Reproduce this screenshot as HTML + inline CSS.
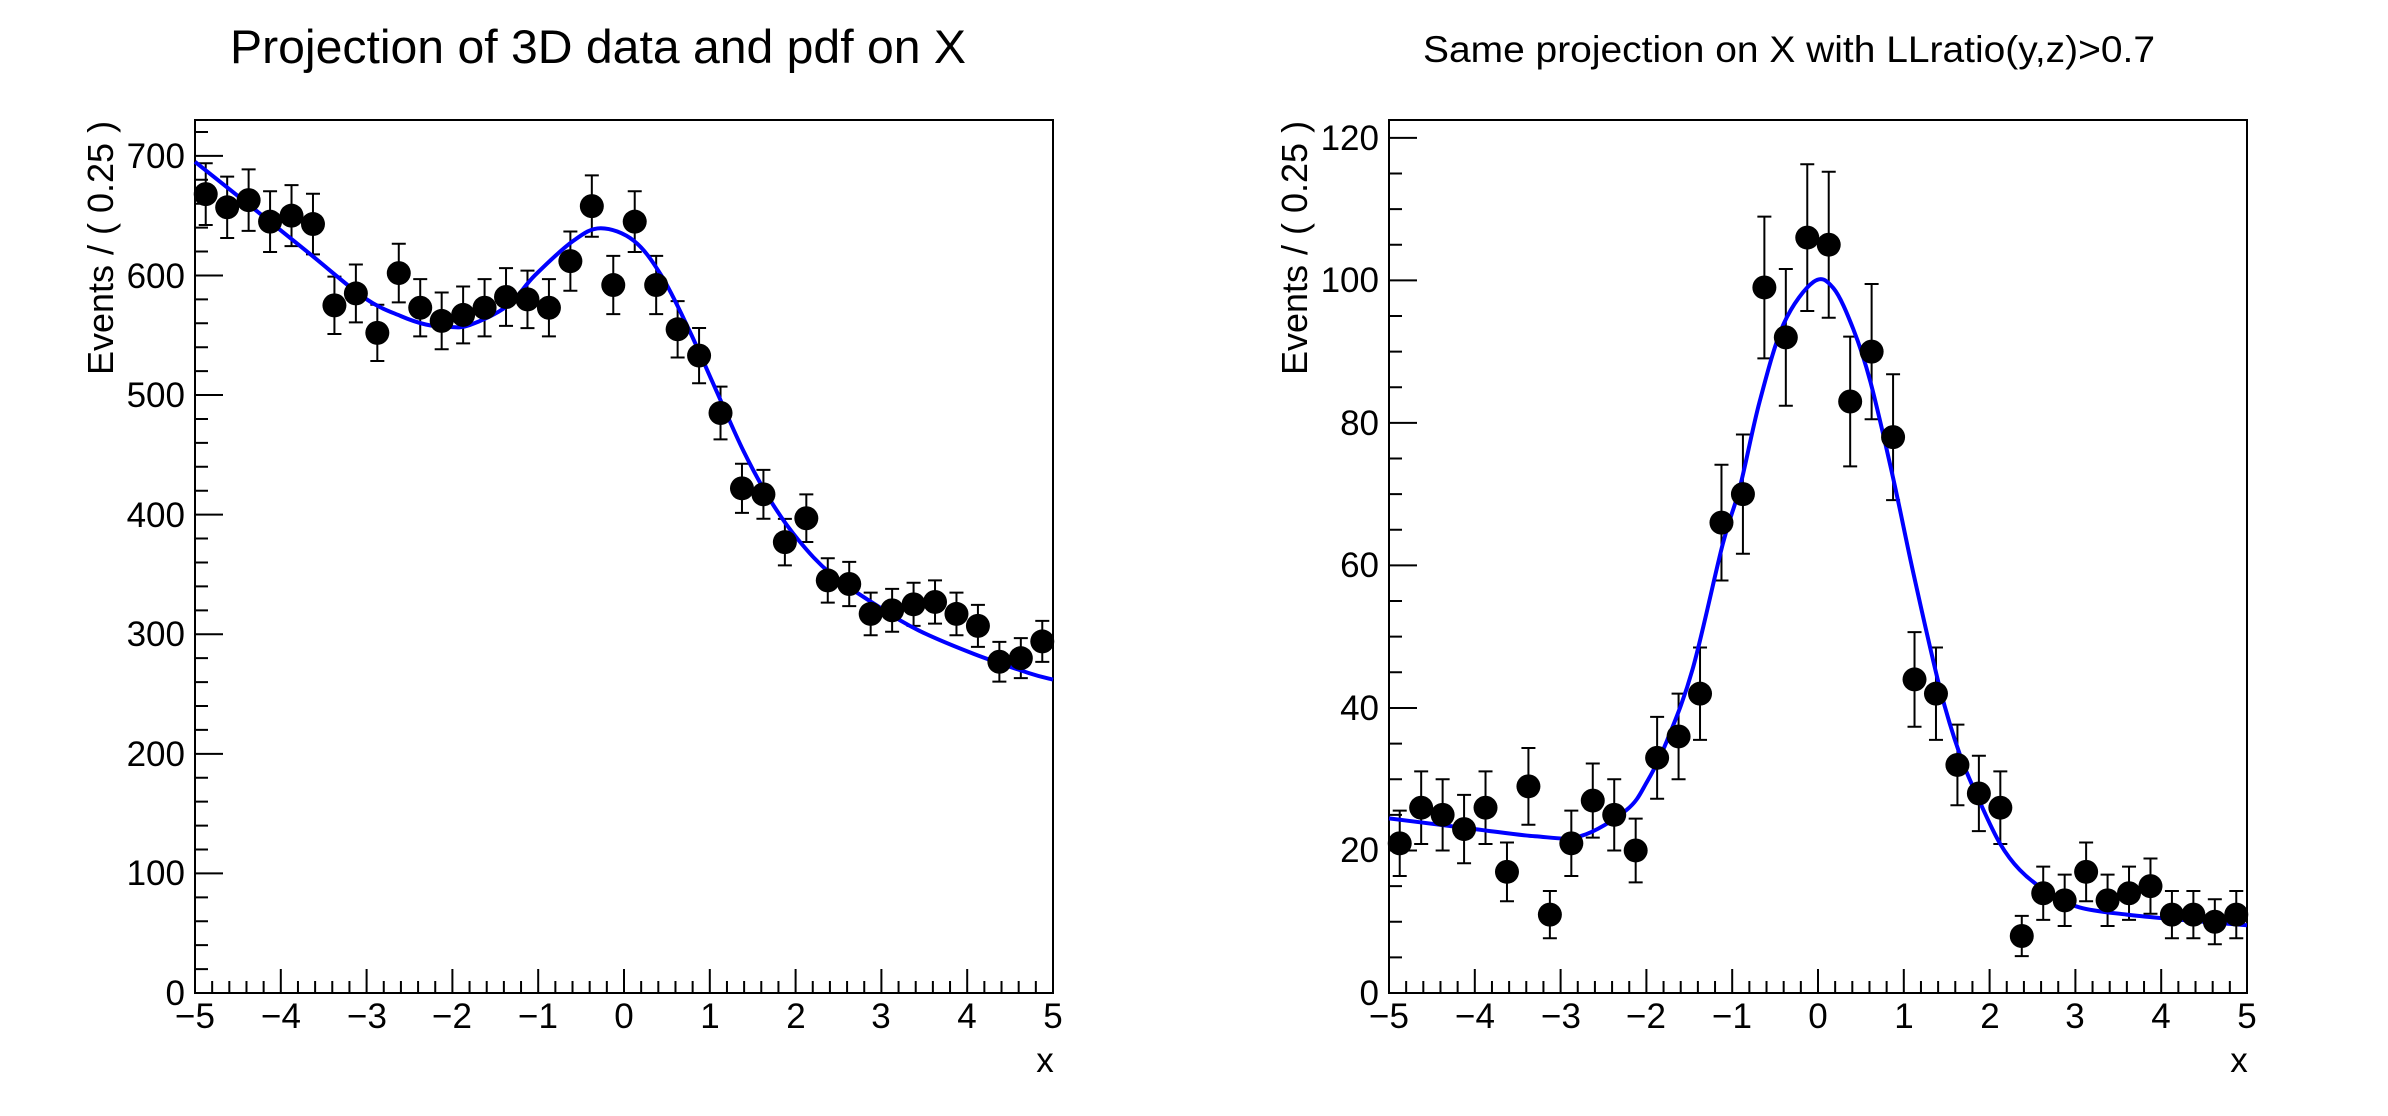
<!DOCTYPE html>
<html><head><meta charset="utf-8">
<style>html,body{margin:0;padding:0;background:#fff;}svg{display:block;}text{font-family:"Liberation Sans",Arial,sans-serif;fill:#000;}</style>
</head><body>
<svg id="s" width="2388" height="1116" viewBox="0 0 2388 1116" xmlns="http://www.w3.org/2000/svg">
<rect width="2388" height="1116" fill="#fff"/>
<text x="230" y="63" font-size="47" textLength="736" lengthAdjust="spacingAndGlyphs">Projection of 3D data and pdf on X</text>
<text x="1423" y="62" font-size="37" textLength="732" lengthAdjust="spacingAndGlyphs">Same projection on X with LLratio(y,z)&gt;0.7</text>
<g font-size="35" text-anchor="end">
<text x="185" y="1005">0</text><text x="185" y="885">100</text><text x="185" y="766">200</text><text x="185" y="646">300</text><text x="185" y="527">400</text><text x="185" y="407">500</text><text x="185" y="288">600</text><text x="185" y="168">700</text>
<text x="1379" y="1005">0</text><text x="1379" y="862">20</text><text x="1379" y="720">40</text><text x="1379" y="577">60</text><text x="1379" y="435">80</text><text x="1379" y="292">100</text><text x="1379" y="150">120</text>
</g>
<g font-size="35" text-anchor="middle">
<text x="195" y="1028">−5</text><text x="281" y="1028">−4</text><text x="367" y="1028">−3</text><text x="452" y="1028">−2</text><text x="538" y="1028">−1</text><text x="624" y="1028">0</text><text x="710" y="1028">1</text><text x="796" y="1028">2</text><text x="881" y="1028">3</text><text x="967" y="1028">4</text><text x="1053" y="1028">5</text>
<text x="1389" y="1028">−5</text><text x="1475" y="1028">−4</text><text x="1561" y="1028">−3</text><text x="1646" y="1028">−2</text><text x="1732" y="1028">−1</text><text x="1818" y="1028">0</text><text x="1904" y="1028">1</text><text x="1990" y="1028">2</text><text x="2075" y="1028">3</text><text x="2161" y="1028">4</text><text x="2247" y="1028">5</text>
<text x="1045" y="1072">x</text><text x="2239" y="1072">x</text>
</g>
<text transform="translate(113,248) rotate(-90)" font-size="36" text-anchor="middle">Events / ( 0.25 )</text>
<text transform="translate(1307,248) rotate(-90)" font-size="36" text-anchor="middle">Events / ( 0.25 )</text>
<g id="g"></g>
</svg>
<script>
var G=document.getElementById('g'),h='';
function panel(x0,ymax,minorY,data,curve){
 var W=858,T=120,B=993,H=B-T;
 var X=function(v){return x0+(v+5)*W/10;},Y=function(v){return B-v*H/ymax;};
 h+='<rect x="'+x0+'" y="'+T+'" width="'+W+'" height="'+H+'" fill="none" stroke="#000" stroke-width="2"/>';
 var p='';
 for(var i=0;i<=50;i++){var v=-5+i*0.2,x=X(v),L=(i%5==0)?24:12;p+='M'+x+' '+B+'V'+(B-L);}
 var n=Math.floor(ymax/minorY+1e-6);
 for(var i=0;i<=n;i++){var v=i*minorY,y=Y(v),L=(i%(minorY==20?5:4)==0)?28:13;p+='M'+x0+' '+y+'H'+(x0+L);}
 h+='<path d="'+p+'" stroke="#000" stroke-width="2" fill="none"/>';
 var pts=curve.map(function(c){return [X(c[0]),Y(c[1])];});
 var d='M'+pts[0][0]+' '+pts[0][1];
 for(var i=0;i<pts.length-1;i++){var p0=pts[Math.max(i-1,0)],p1=pts[i],p2=pts[i+1],p3=pts[Math.min(i+2,pts.length-1)];
  d+='C'+(p1[0]+(p2[0]-p0[0])/6)+' '+(p1[1]+(p2[1]-p0[1])/6)+' '+(p2[0]-(p3[0]-p1[0])/6)+' '+(p2[1]-(p3[1]-p1[1])/6)+' '+p2[0]+' '+p2[1];}
 var e='',dots='';
 data.forEach(function(v,k){var xv=-4.875+0.25*k,x=X(xv),s=Math.sqrt(v),y1=Y(v+s),y2=Y(v-s);
  e+='M'+x+' '+y1+'V'+y2+'M'+(x-7)+' '+y1+'h14M'+(x-7)+' '+y2+'h14';
  dots+='<circle cx="'+x+'" cy="'+Y(v)+'" r="12"/>';});
 h+='<path d="'+e+'" stroke="#000" stroke-width="2" fill="none"/>';
 h+='<path d="'+d+'" stroke="#0000ff" stroke-width="4" fill="none"/>';
 h+='<g fill="#000">'+dots+'</g>';
}
panel(195,730,20,[668,657,663,645,650,643,575,585,552,602,573,562,567,573,582,580,573,612,658,592,645,592,555,533,485,422,417,377,397,345,342,317,320,325,327,317,307,277,280,294],
[[-5,695],[-4.3,655],[-3.66,618],[-3.02,581],[-2.6,566],[-2.31,559],[-2.05,557],[-1.8,558.5],[-1.36,574.5],[-1.04,600],[-0.59,629],[-0.27,639.5],[0.115,629],[0.435,600],[0.755,555],[1.074,504],[1.394,453],[1.71,411.5],[2.03,379],[2.42,350],[2.99,322],[3.44,303],[4.08,283.5],[4.72,267.5],[5,262]]);
panel(1389,122.5,5,[21,26,25,23,26,17,29,11,21,27,25,20,33,36,42,66,70,99,92,106,105,83,90,78,44,42,32,28,26,8,14,13,17,13,14,15,11,11,10,11],
[[-5,24.5],[-4,23],[-3.3,22],[-2.77,22],[-2.23,25.7],[-1.99,29.7],[-1.76,35.4],[-1.46,45.5],[-1.11,63],[-0.91,71],[-0.68,83],[-0.4,93.9],[-0.05,99.8],[0.18,98.9],[0.41,93.2],[0.61,85.8],[0.875,72.3],[1.11,59],[1.42,42.8],[1.655,33.4],[1.89,26.7],[2.12,21],[2.35,17.3],[2.66,14.3],[3.05,12],[3.6,11],[4.2,10.3],[5,9.5]]);
G.innerHTML=h;
</script>
</body></html>
